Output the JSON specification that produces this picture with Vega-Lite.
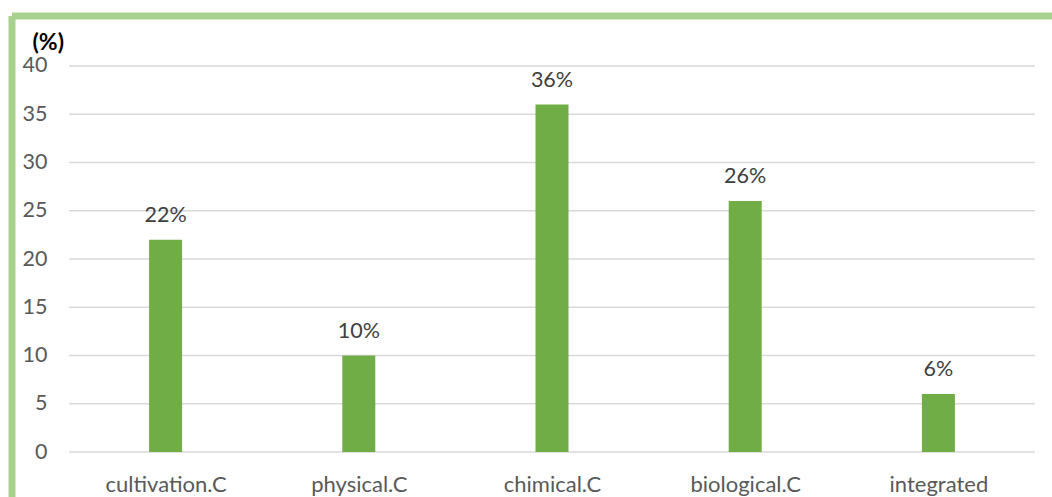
{
  "$schema": "https://vega.github.io/schema/vega-lite/v6.json",
  "autosize": {"type": "none"},
  "padding": {"left": 11.5, "top": 15.5, "right": 0, "bottom": 0},
  "width": 1040.5,
  "height": 481.5,
  "background": "white",
  "config": {
    "view": {"stroke": null},
    "font": "Lato"
  },
  "datasets": {
    "bars": [
      {"idx": 1, "category": "cultivation.C", "value": 22, "label": "22%"},
      {"idx": 2, "category": "physical.C", "value": 10, "label": "10%"},
      {"idx": 3, "category": "chimical.C", "value": 36, "label": "36%"},
      {"idx": 4, "category": "biological.C", "value": 26, "label": "26%"},
      {"idx": 5, "category": "integrated", "value": 6, "label": "6%"}
    ],
    "grid": [
      {"g": 0}, {"g": 5}, {"g": 10}, {"g": 15}, {"g": 20},
      {"g": 25}, {"g": 30}, {"g": 35}, {"g": 40}
    ]
  },
  "resolve": {"axis": {"x": "independent", "y": "independent"}},
  "layer": [
    {
      "data": {"name": "grid"},
      "mark": {"type": "rule", "color": "#D9D9D9", "strokeWidth": 1.5},
      "encoding": {
        "y": {"field": "g", "type": "quantitative", "scale": {"domain": [-4.663, 45.233], "nice": false, "zero": false, "padding": 0},
          "axis": {
            "orient": "left", "offset": -57.5, "values": [0, 5, 10, 15, 20, 25, 30, 35, 40],
            "domain": false, "ticks": false, "tickSize": 0, "grid": false,
            "labelPadding": 22, "labelFontSize": 21.5, "labelColor": "#595959", "labelFont": "Lato",
            "title": "(%)", "titleAngle": 0, "titleX": -37, "titleY": 34, "titleAlign": "left",
            "titleBaseline": "alphabetic", "titleFontSize": 23, "titleColor": "#000000", "titleFontWeight": "bold", "titleFont": "Lato"
          }
        },
        "x": {"datum": 0.5, "type": "quantitative", "scale": {"domain": [0.2024, 5.588], "nice": false, "zero": false, "padding": 0},
          "axis": {
            "orient": "bottom", "offset": -45, "values": [1, 2, 3, 4, 5],
            "labelExpr": "['', 'cultivation.C', 'physical.C', 'chimical.C', 'biological.C', 'integrated'][datum.value]",
            "domain": false, "ticks": false, "tickSize": 0, "grid": false,
            "labelPadding": 39, "labelBaseline": "alphabetic", "labelFontSize": 22, "labelColor": "#595959", "labelFont": "Lato",
            "title": null
          }
        },
        "x2": {"datum": 5.5}
      }
    },
    {
      "data": {"name": "bars"},
      "mark": {"type": "bar", "color": "#70AD47", "size": 33},
      "encoding": {
        "x": {"field": "idx", "type": "quantitative",
          "axis": {"orient": "top", "offset": 0, "domain": true, "domainColor": "#A9D18E", "domainWidth": 7, "domainCap": "butt",
            "labels": false, "ticks": false, "grid": false, "title": null}},
        "y": {"field": "value", "type": "quantitative",
          "axis": {"orient": "left", "offset": 0, "domain": true, "domainColor": "#A9D18E", "domainWidth": 7, "domainCap": "butt",
            "labels": false, "ticks": false, "grid": false, "title": null}},
        "y2": {"datum": 0}
      }
    },
    {
      "data": {"name": "bars"},
      "mark": {"type": "text", "baseline": "alphabetic", "dy": -18, "fontSize": 21.5, "color": "#404040", "font": "Lato"},
      "encoding": {
        "x": {"field": "idx", "type": "quantitative", "axis": null},
        "y": {"field": "value", "type": "quantitative", "axis": null},
        "text": {"field": "label"}
      }
    }
  ]
}
